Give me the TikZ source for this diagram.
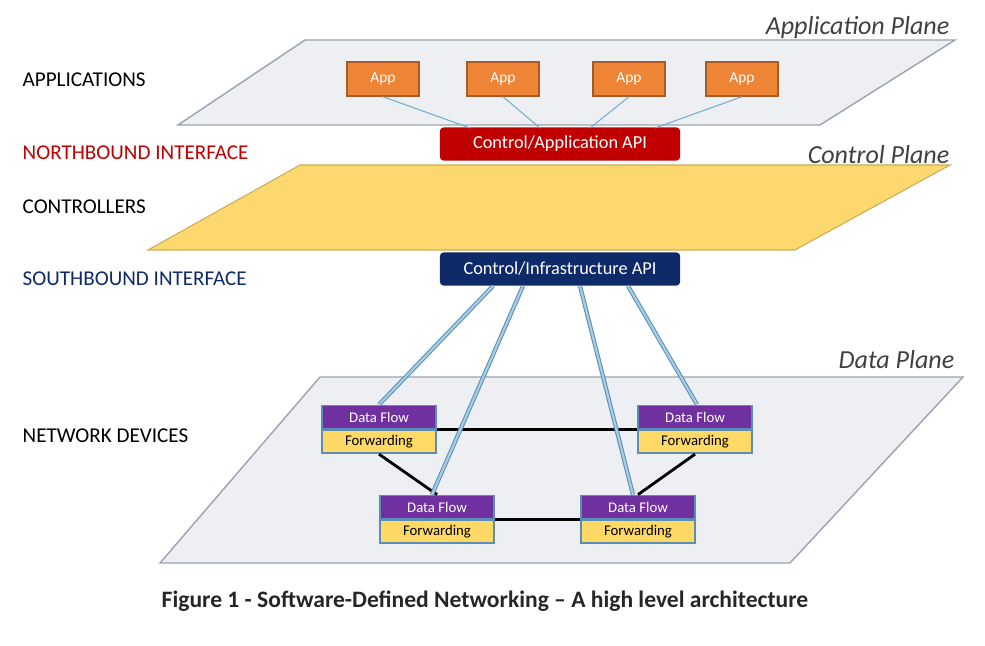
\documentclass[tikz,border=0pt]{standalone}
\usepackage{fontspec}
\setmainfont{Carlito}
\usetikzlibrary{positioning}
\definecolor{planegray}{HTML}{EDEFF2}
\definecolor{planeedge}{HTML}{9AA3AE}
\definecolor{ctrlyellow}{HTML}{FCD86F}
\definecolor{apporange}{HTML}{EE8436}
\definecolor{apired}{HTML}{C00000}
\definecolor{apinavy}{HTML}{0F2A68}
\definecolor{flowpurple}{HTML}{7030A0}
\definecolor{fwdyellow}{HTML}{FFD966}
\definecolor{linkblue}{HTML}{6FB0CF}
\definecolor{devedge}{HTML}{5B8DB8}
\begin{document}
\begin{tikzpicture}[x=0.01cm, y=-0.01cm]
\tikzstyle{plane}=[draw=planeedge, fill=planegray, line width=0.4pt]
\tikzstyle{lefttag}=[anchor=west, inner sep=0pt, font=\fontsize{6}{7}\selectfont]
\tikzstyle{planetag}=[anchor=east, inner sep=0pt, font=\fontsize{7.4}{8}\selectfont\itshape, text=black!75]
\tikzstyle{app}=[draw=apporange!70!black, fill=apporange, text=white, minimum width=0.72cm, minimum height=0.34cm, inner sep=0pt, font=\fontsize{4.4}{5}\selectfont]
\tikzstyle{api}=[rounded corners=1pt, text=white, minimum width=2.4cm, minimum height=0.33cm, inner sep=0pt, font=\fontsize{5.2}{6}\selectfont]
\tikzstyle{flow}=[draw=devedge, fill=flowpurple, text=white, minimum width=1.14cm, minimum height=0.23cm, inner sep=0pt, line width=0.5pt, font=\fontsize{4.2}{5}\selectfont]
\tikzstyle{fwd}=[draw=devedge, fill=fwdyellow, text=black, minimum width=1.14cm, minimum height=0.23cm, inner sep=0pt, line width=0.5pt, font=\fontsize{4.2}{5}\selectfont]
\tikzstyle{applink}=[draw=linkblue, line width=0.3pt]
\tikzstyle{devlink}=[draw=devedge, double=linkblue!60, double distance=0.6pt, line width=0.3pt]
\tikzstyle{wire}=[draw=black, line width=0.8pt]
\useasboundingbox (0,0) rectangle (985,646);
%% planes
\draw[plane] (305,40) -- (955,40) -- (820,125) -- (178,125) -- cycle;
\draw[draw=ctrlyellow!80!black, fill=ctrlyellow, line width=0.3pt] (300,165) -- (950,165) -- (795,250) -- (148,250) -- cycle;
\draw[plane] (320,377) -- (963,377) -- (790,563) -- (160,563) -- cycle;
\node[planetag] (aplane) at (950,28) {Application Plane};
\node[planetag] (cplane) at (950,155) {Control Plane};
\node[planetag] (dplane) at (955,360) {Data Plane};
%% left labels
\node[lefttag] (lapps) at (22,80) {APPLICATIONS};
\node[lefttag, text=apired] (lnorth) at (22,153) {NORTHBOUND INTERFACE};
\node[lefttag] (lctrl) at (22,207) {CONTROLLERS};
\node[lefttag, text=apinavy] (lsouth) at (22,279) {SOUTHBOUND INTERFACE};
\node[lefttag] (ldev) at (22,436) {NETWORK DEVICES};
%% apps and APIs
\node[app] (app1) at (383,79) {App};
\node[app] (app2) at (503,79) {App};
\node[app] (app3) at (629,79) {App};
\node[app] (app4) at (742,79) {App};
\node[api, fill=apired] (capi) at (560,144) {Control/Application API};
\node[api, fill=apinavy] (iapi) at (560,269) {Control/Infrastructure API};
\coordinate (c1) at (470,128);
\coordinate (c2) at (540,128);
\coordinate (c3) at (590,128);
\coordinate (c4) at (655,128);
\draw[applink] (app1.south) -- (c1);
\draw[applink] (app2.south) -- (c2);
\draw[applink] (app3.south) -- (c3);
\draw[applink] (app4.south) -- (c4);
%% devices
\node[flow] (flowA) at (379,417) {Data Flow};
\node[fwd, below=0pt of flowA] (fwdA) {Forwarding};
\node[flow] (flowB) at (695,417) {Data Flow};
\node[fwd, below=0pt of flowB] (fwdB) {Forwarding};
\node[flow] (flowC) at (437,507) {Data Flow};
\node[fwd, below=0pt of flowC] (fwdC) {Forwarding};
\node[flow] (flowD) at (638,507) {Data Flow};
\node[fwd, below=0pt of flowD] (fwdD) {Forwarding};
\draw[wire] (fwdA.north east) -- (fwdB.north west);
\draw[wire] (fwdC.north east) -- (fwdD.north west);
\draw[wire] (fwdA.south) -- (flowC.north);
\draw[wire] (fwdB.south) -- (flowD.north);
%% southbound links
\coordinate (s1) at (493,286);
\coordinate (s2) at (523,286);
\coordinate (s3) at (580,286);
\coordinate (s4) at (628,286);
\draw[devlink] (s1) -- (flowA.north);
\draw[devlink] (s2) -- ([xshift=-0.05cm]flowC.north);
\draw[devlink] (s3) -- ([xshift=-0.05cm]flowD.north);
\draw[devlink] (s4) -- ([xshift=0.02cm]flowB.north);
%% caption
\node[font=\fontsize{6.7}{8}\selectfont\bfseries, text=black!85] (caption) at (485,601) {Figure 1 - Software-Defined Networking -- A high level architecture};
\end{tikzpicture}
\end{document}
